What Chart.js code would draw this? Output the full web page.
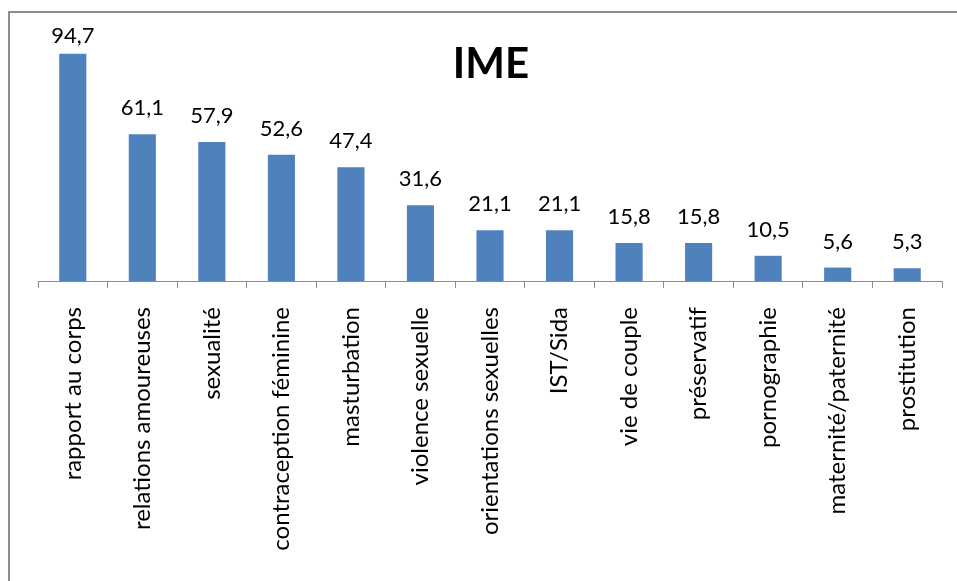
<!DOCTYPE html>
<html lang="fr">
<head>
  <meta charset="UTF-8">
  <title>IME</title>
  <script src="https://cdn.jsdelivr.net/npm/chart.js"></script>
  <style>
    body {
      margin: 0;
      background: #fff;
      overflow: hidden;
    }
    /* chart frame, its right edge runs off the page */
    .frame {
      position: absolute;
      left: 8px;
      top: 11px;
      width: 1000px;
      height: 568px;
      border-left: 2px solid #8c8c8c;
      border-top: 2px solid #8c8c8c;
    }
    .chart-box {
      position: absolute;
      left: 0;
      top: 0;
      width: 957px;
      height: 581px;
    }
  </style>
</head>
<body>
  <div class="frame"></div>
  <div class="chart-box">
    <canvas id="myChart"></canvas>
  </div>

  <script>
    const chartTitle = 'IME';
    const categories = [
      'rapport au corps', 'relations amoureuses', 'sexualité', 'contraception féminine',
      'masturbation', 'violence sexuelle', 'orientations sexuelles', 'IST/Sida',
      'vie de couple', 'préservatif', 'pornographie', 'maternité/paternité', 'prostitution'
    ];
    const percentages = [94.7, 61.1, 57.9, 52.6, 47.4, 31.6, 21.1, 21.1, 15.8, 15.8, 10.5, 5.6, 5.3];

    const FONT = "Lato, 'Open Sans', sans-serif";

    // values written above each bar with a comma decimal
    const valueLabels = {
      id: 'valueLabels',
      afterDatasetsDraw(chart) {
        const ctx = chart.ctx;
        const meta = chart.getDatasetMeta(0);
        ctx.save();
        ctx.font = '22px ' + FONT;
        ctx.fillStyle = '#000';
        ctx.textAlign = 'center';
        ctx.textBaseline = 'alphabetic';
        meta.data.forEach((bar, i) => {
          const y = Math.max(bar.y - 19, 43);
          ctx.fillText(percentages[i].toFixed(1).replace('.', ','), bar.x, y);
        });
        ctx.restore();
      }
    };

    // big bold title sitting inside the plot area
    const innerTitle = {
      id: 'innerTitle',
      afterDraw(chart) {
        const ctx = chart.ctx;
        const area = chart.chartArea;
        ctx.save();
        ctx.font = 'bold 42px ' + FONT;
        ctx.fillStyle = '#000';
        ctx.textAlign = 'center';
        ctx.textBaseline = 'alphabetic';
        ctx.fillText(chartTitle, (area.left + area.right) / 2 + 1, 78);
        ctx.restore();
      }
    };

    new Chart(document.getElementById('myChart'), {
      type: 'bar',
      data: {
        labels: categories,
        datasets: [{
          data: percentages,
          backgroundColor: '#4f81bd',
          borderWidth: 0,
          barPercentage: 0.39,
          categoryPercentage: 1
        }]
      },
      options: {
        responsive: true,
        maintainAspectRatio: false,
        animation: false,
        layout: {
          padding: { top: 41, left: 38, right: 15, bottom: 0 }
        },
        plugins: {
          legend: { display: false },
          title: { display: false },
          tooltip: { enabled: false }
        },
        scales: {
          x: {
            afterFit(scale) { scale.height = 300; },
            grid: {
              offset: true,
              drawOnChartArea: false,
              tickLength: 7,
              color: '#8c8c8c'
            },
            border: { display: true, color: '#8c8c8c', width: 1 },
            ticks: {
              minRotation: 90,
              maxRotation: 90,
              autoSkip: false,
              padding: 19,
              color: '#000',
              font: { family: FONT, size: 24 }
            }
          },
          y: {
            display: false,
            min: 0,
            max: 100
          }
        }
      },
      plugins: [valueLabels, innerTitle]
    });
  </script>
</body>
</html>
